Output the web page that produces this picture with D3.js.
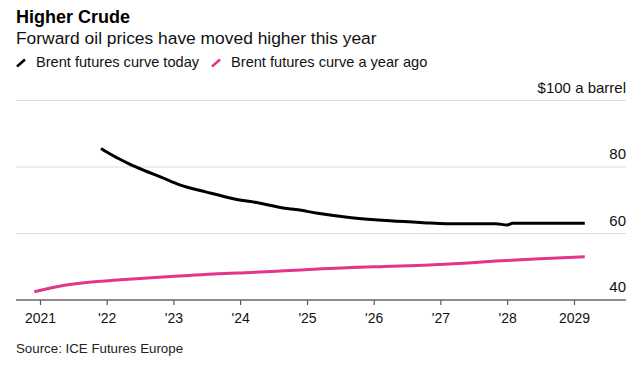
<!DOCTYPE html>
<html>
<head>
<meta charset="utf-8">
<script src="https://cdn.jsdelivr.net/npm/d3@7"></script>
<style>
  html, body { margin: 0; padding: 0; background: #fff; }
  svg { display: block; font-family: "Liberation Sans", Arial, Helvetica, sans-serif; }
</style>
</head>
<body>
<svg id="chart" width="640" height="367"></svg>
<script>
// ---- data ----
const todayDates  = ["2021-12","2022-01","2022-03","2022-05","2022-08","2022-11","2023-02","2023-07","2023-12","2024-04","2024-09","2024-11","2025-03","2025-09","2026-04","2026-10","2027-02","2027-11","2028-01","2028-02","2028-06","2029-03"];
const todayValues = [85.6, 84.5, 82.7, 81.0, 78.8, 76.8, 74.7, 72.45, 70.4, 69.3, 67.6, 67.2, 66.1, 64.75, 63.8, 63.25, 62.95, 62.95, 62.55, 63.05, 63.05, 63.05];
const agoDates    = ["2020-12","2021-05","2021-09","2022-03","2022-09","2023-03","2023-09","2024-03","2024-09","2025-03","2025-09","2026-03","2026-11","2027-06","2027-11","2028-06","2029-03"];
const agoValues   = [42.5, 44.3, 45.2, 46.0, 46.7, 47.3, 47.9, 48.3, 48.8, 49.3, 49.8, 50.1, 50.5, 51.1, 51.7, 52.3, 53.0];
const yTicks      = [40, 60, 80, 100];
const xTickYears  = [2021, 2022, 2023, 2024, 2025, 2026, 2027, 2028, 2029];
const xTickLabels = ["2021", "'22", "'23", "'24", "'25", "'26", "'27", "'28", "2029"];
const seriesNames = ["Brent futures curve today", "Brent futures curve a year ago"];
const seriesColors = ["#000000", "#e2358b"];

// ---- layout ----
const svg = d3.select("#chart");
const plotLeft = 16, plotRight = 626, plotTop = 100.5, plotBottom = 300;
const parse = d3.timeParse("%Y-%m");

const x = d3.scaleTime()
  .domain([new Date(2021, 0, 1), new Date(2029, 0, 1)])
  .range([40, 574]);
const y = d3.scaleLinear().domain([40, 100]).range([plotBottom, plotTop]);

// titles
svg.append("text").attr("x", 16).attr("y", 23)
  .attr("font-size", 18).attr("font-weight", "bold").attr("fill", "#000")
  .text("Higher Crude");
svg.append("text").attr("x", 16).attr("y", 44)
  .attr("font-size", 17.4).attr("fill", "#111")
  .text("Forward oil prices have moved higher this year");

// legend
let lx = 16;
seriesNames.forEach((name, i) => {
  const g = svg.append("g");
  g.append("line").attr("x1", lx + 1).attr("y1", 66.5).attr("x2", lx + 9).attr("y2", 59.5)
    .attr("stroke", seriesColors[i]).attr("stroke-width", 2.6).attr("stroke-linecap", "butt");
  const t = g.append("text").attr("x", lx + 20).attr("y", 67)
    .attr("font-size", 14.6).attr("fill", "#111").text(name);
  lx = lx + 20 + t.node().getComputedTextLength() + 12;
});

// gridlines (non-baseline)
yTicks.filter(v => v !== 40).forEach(v => {
  svg.append("line").attr("x1", plotLeft).attr("x2", plotRight)
    .attr("y1", y(v)).attr("y2", y(v))
    .attr("stroke", "#dcdcdc").attr("stroke-width", 1);
});

// y labels
yTicks.forEach(v => {
  svg.append("text").attr("x", plotRight).attr("y", y(v) - 8)
    .attr("text-anchor", "end").attr("font-size", 15).attr("fill", "#111")
    .text(v === 100 ? "$100 a barrel" : String(v));
});

// lines
const line = d3.line().x(d => x(d[0])).y(d => y(d[1])).curve(d3.curveMonotoneX);
const todayData = todayDates.map((d, i) => [parse(d), todayValues[i]]);
const agoData = agoDates.map((d, i) => [parse(d), agoValues[i]]);
svg.append("path").datum(agoData).attr("d", line)
  .attr("fill", "none").attr("stroke", seriesColors[1]).attr("stroke-width", 3);
svg.append("path").datum(todayData).attr("d", line)
  .attr("fill", "none").attr("stroke", seriesColors[0]).attr("stroke-width", 3);

// x axis
const xAxis = d3.axisBottom(x)
  .tickValues(xTickYears.map(yr => new Date(yr, 0, 1)))
  .tickFormat((d, i) => xTickLabels[i])
  .tickSize(5).tickSizeOuter(0).tickPadding(8);
const ax = svg.append("g").attr("transform", `translate(0,${plotBottom})`).call(xAxis);
ax.select(".domain").remove();
ax.selectAll(".tick line").attr("stroke", "#555").attr("stroke-width", 1.2);
ax.selectAll(".tick text").attr("font-size", 14).attr("fill", "#111")
  .attr("font-family", "'Liberation Sans', Arial, sans-serif");
svg.append("line").attr("x1", plotLeft).attr("x2", plotRight).attr("y1", plotBottom).attr("y2", plotBottom)
  .attr("stroke", "#666").attr("stroke-width", 1.5);

// source
svg.append("text").attr("x", 16).attr("y", 353)
  .attr("font-size", 13.3).attr("fill", "#222")
  .text("Source: ICE Futures Europe");
</script>
</body>
</html>
